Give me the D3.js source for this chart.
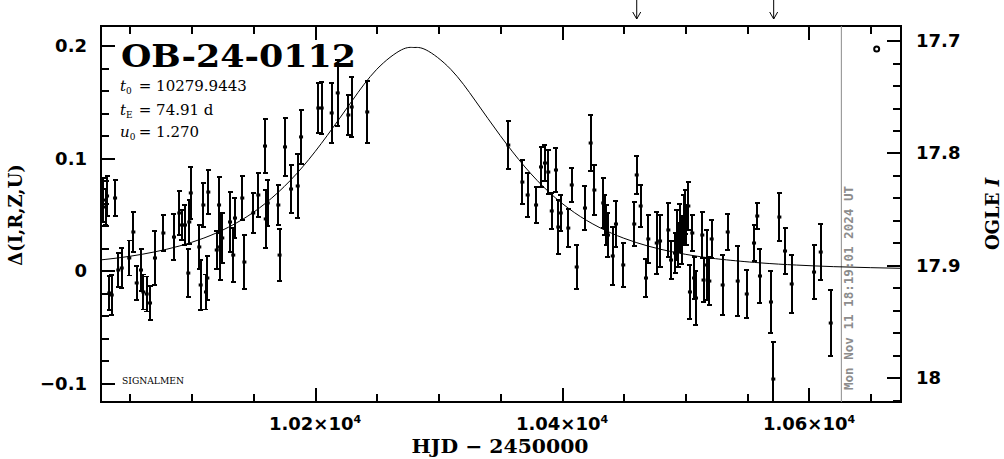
<!DOCTYPE html>
<html><head><meta charset="utf-8">
<script src="https://cdn.jsdelivr.net/npm/d3@7"></script>
<style>html,body{margin:0;padding:0;background:#fff;} svg{display:block} text{white-space:pre}</style>
</head><body>
<svg id="c" width="1004" height="459"></svg>
<script>
// ---- data ----
const hjd = [10028.7,10030.4,10031.6,10033.4,10035.4,10038.1,10040.7,10043.5,10049.6,10052.9,10055.6,10059.1,10061.0,10063.7,10066.4,10070.4,10077.2,10085.8,10090.1,10092.1,10094.7,10097.4,10098.2,10099.4,10106.3,10107.4,10109.6,10111.7,10112.8,10113.6,10120.4,10122.3,10123.1,10124.9,10131.2,10133.8,10135.2,10141.1,10142.8,10150.0,10154.1,10159.5,10160.1,10161.7,10170.3,10171.3,10175.7,10180.6,10186.0,10188.7,10202.7,10205.4,10213.5,10218.4,10227.0,10229.7,10242.3,
10356.5,10367.9,10372.2,10379.0,10383.0,10386.2,10388.9,10391.7,10395.1,10397.0,10399.0,10405.1,10407.9,10411.9,10418.6,10423.2,10426.2,10433.4,10434.8,10436.0,10437.2,10441.1,10443.7,10449.6,10458.5,10460.5,10463.7,10468.0,10469.9,10476.7,10479.4,10486.1,10488.3,10491.5,10493.1,10494.3,10495.5,10496.9,10498.4,10499.6,10500.8,10502.3,10503.6,10505.5,10506.9,10508.5,10513.6,10514.6,10517.2,10519.3,10521.2,10530.1,10534.2,10542.3,10549.6,10555.5,10558.1,10560.3,10569.2,10571.1,10576.0,10580.6,10586.0,10604.1,10609.5,10617.6];
const delta = [0.0629,0.0567,0.0665,-0.0197,-0.0215,0.0647,0.0007,0.0025,0.0114,0.0345,-0.0108,0.0007,-0.0188,-0.0206,-0.0286,0.0114,0.0336,0.0300,0.0514,0.0407,0.0407,-0.0020,0.0434,0.0692,0.0212,-0.0126,0.0585,-0.0188,-0.0064,0.0700,0.0185,0.0585,0.0212,0.0292,0.0434,0.0140,0.0469,0.0647,0.0078,0.0514,0.0674,0.1109,0.0461,0.0603,0.0585,0.0140,0.1101,0.0727,0.0754,0.1190,0.1447,0.1447,0.1403,0.1581,0.1385,0.1456,0.1412,
0.1118,0.0789,0.0674,0.0585,0.0923,0.0958,0.0878,0.0532,0.0896,0.0389,0.0514,0.0380,0.0763,0.0034,0.0558,0.1136,0.0718,0.0603,0.0496,0.0407,0.0318,0.0132,0.0416,0.0052,0.0416,0.0852,0.0576,-0.0064,0.0283,0.0247,0.0265,0.0363,0.0096,0.0158,0.0318,0.0229,0.0380,0.0274,0.0452,0.0523,0.0407,0.0576,-0.0188,0.0336,-0.0064,-0.0242,0.0318,-0.0082,0.0052,-0.0091,0.0283,-0.0126,0.0345,-0.0091,-0.0206,0.0247,0.0487,-0.0046,-0.0277,-0.0962,0.0478,0.0176,-0.0117,-0.0011,0.0167,-0.0464];
const errs = [0.0196,0.016,0.0178,0.0151,0.0178,0.016,0.0151,0.0178,0.0156,0.0178,0.0151,0.0187,0.0156,0.0156,0.0151,0.024,0.016,0.0204,0.0196,0.0133,0.0178,0.0213,0.0196,0.0231,0.0196,0.0222,0.0196,0.0156,0.0196,0.0196,0.0169,0.0249,0.0293,0.0222,0.0267,0.024,0.0178,0.0196,0.024,0.0178,0.0196,0.024,0.0258,0.0204,0.0178,0.0231,0.0258,0.0213,0.0284,0.024,0.0222,0.0231,0.0267,0.0293,0.0178,0.0267,0.0276,
0.0213,0.0196,0.0196,0.016,0.0178,0.016,0.0196,0.016,0.0196,0.024,0.016,0.0169,0.0151,0.0196,0.0196,0.0249,0.0222,0.0222,0.0178,0.0178,0.0196,0.0258,0.0204,0.0196,0.0196,0.0169,0.0187,0.0169,0.0213,0.0276,0.0231,0.024,0.0169,0.0178,0.0222,0.0196,0.0213,0.0213,0.0222,0.0196,0.0178,0.0213,0.024,0.016,0.0187,0.024,0.0204,0.0196,0.0311,0.0213,0.0169,0.0267,0.016,0.0311,0.0213,0.016,0.0116,0.024,0.0276,0.0329,0.0213,0.0204,0.0258,0.024,0.0249,0.0293];
// model curve
const modelT = [10010,10030,10050,10070,10090,10110,10130,10150,10170,10190,10210,10230,10250,10270,10280,10290,10310,10330,10350,10370,10390,10410,10430,10450,10470,10490,10510,10530,10560,10590,10620,10650,10680];
const modelD = [0.0080,0.0101,0.0129,0.0168,0.0220,0.0291,0.0388,0.0519,0.0696,0.0924,0.1204,0.1511,0.1791,0.1964,0.1985,0.1963,0.1790,0.1509,0.1202,0.0923,0.0694,0.0518,0.0387,0.0290,0.0219,0.0167,0.0129,0.0101,0.0071,0.0051,0.0037,0.0028,0.0021];
const xTickValues = [10200, 10400, 10600];
const xTickMantissa = ["1.02", "1.04", "1.06"];
const xMinorStep = 50;
const leftTickValues = [-0.1, 0, 0.1, 0.2];
const leftTickLabels = ["\u22120.1", "0", "0.1", "0.2"];
const rightTickValues = [17.7, 17.8, 17.9, 18.0];
const rightTickLabels = ["17.7", "17.8", "17.9", "18"];
const arrowTimes = [10460.5, 10571.4];
const nowLineT = 10626.2;
const symbolT = 10654.8, symbolD = 0.1972;
const eventName = "OB-24-0112";
const params = [["t","0"," = 10279.9443"],["t","E"," = 74.91 d"],["u","0"," = 1.270"]];
const stamp = "Mon Nov 11 18:19:01 2024 UT";

// ---- layout ----
const X0 = 101, X1 = 901, Y0 = 26, Y1 = 402;
const svg = d3.select("#c");
const x = d3.scaleLinear().domain([10026.7, 10674.5]).range([X0, X1]);
const y = d3.scaleLinear().domain([-0.1166, 0.2176]).range([Y1, Y0]);
const yR = d3.scaleLinear().domain([18.0216, 17.687]).range([Y1, Y0]);

svg.append("defs").append("clipPath").attr("id","clip")
  .append("rect").attr("x",X0).attr("y",Y0).attr("width",X1-X0).attr("height",Y1-Y0);

const sansB = "'DejaVu Sans', sans-serif";
const serif = "'DejaVu Serif', serif";

const xMinor = d3.range(10050, 10675, xMinorStep).filter(v => !xTickValues.includes(v));
const lMinor = d3.range(-5, 11).map(i => +(i*0.02).toFixed(2)).filter(v => !leftTickValues.some(t=>Math.abs(t-v)<1e-6));
const rMinor = d3.range(0, 17).map(i => +(17.7 + i*0.02).toFixed(2)).filter(v => !rightTickValues.some(t=>Math.abs(t-v)<1e-6));

function axisG(axis, tx, ty) {
  const g = svg.append("g").attr("transform", `translate(${tx},${ty})`).call(axis);
  g.select(".domain").remove();
  g.selectAll("text").remove();
  g.selectAll("line").attr("stroke","#000").attr("stroke-width",2).attr("shape-rendering","crispEdges");
  return g;
}
axisG(d3.axisBottom(x).tickValues(xTickValues).tickSize(-14).tickFormat(""), 0, Y1);
axisG(d3.axisBottom(x).tickValues(xMinor).tickSize(-8).tickFormat(""), 0, Y1);
axisG(d3.axisTop(x).tickValues(xTickValues).tickSize(-14).tickFormat(""), 0, Y0);
axisG(d3.axisTop(x).tickValues(xMinor).tickSize(-8).tickFormat(""), 0, Y0);
axisG(d3.axisLeft(y).tickValues(leftTickValues).tickSize(-14).tickFormat(""), X0, 0);
axisG(d3.axisLeft(y).tickValues(lMinor).tickSize(-8).tickFormat(""), X0, 0);
axisG(d3.axisRight(yR).tickValues(rightTickValues).tickSize(-14).tickFormat(""), X1, 0);
axisG(d3.axisRight(yR).tickValues(rMinor).tickSize(-8).tickFormat(""), X1, 0);

svg.append("rect").attr("x",X0).attr("y",Y0).attr("width",X1-X0).attr("height",Y1-Y0)
  .attr("fill","none").attr("stroke","#000").attr("stroke-width",2).attr("shape-rendering","crispEdges");

xTickValues.forEach((v,i) => {
  const t = svg.append("text").attr("x", x(v)).attr("y", 430).attr("text-anchor","middle")
    .attr("font-family", sansB).attr("font-weight","bold").attr("font-size",18);
  t.append("tspan").text(xTickMantissa[i] + "\u00d710");
  t.append("tspan").attr("font-size",11).attr("dy",-7).text("4");
});
leftTickValues.forEach((v,i) => {
  svg.append("text").attr("x", 87).attr("y", y(v) + 6.5).attr("text-anchor","end")
    .attr("font-family", sansB).attr("font-weight","bold").attr("font-size",18).text(leftTickLabels[i]);
});
rightTickValues.forEach((v,i) => {
  svg.append("text").attr("x", 916).attr("y", yR(v) + 6.5).attr("text-anchor","start")
    .attr("font-family", sansB).attr("font-weight","bold").attr("font-size",18).text(rightTickLabels[i]);
});

svg.append("text").attr("x", 500).attr("y", 453).attr("text-anchor","middle")
  .attr("font-family", serif).attr("font-weight","bold").attr("font-size",19)
  .attr("textLength",177).attr("lengthAdjust","spacingAndGlyphs").text("HJD \u2212 2450000");
svg.append("text").attr("transform","translate(22,215) rotate(-90)").attr("text-anchor","middle")
  .attr("font-family", serif).attr("font-weight","bold").attr("font-size",18).text("\u0394(I,R,Z,U)");
const og = svg.append("text").attr("transform","translate(999,214) rotate(-90)").attr("text-anchor","middle")
  .attr("font-family", serif).attr("font-weight","bold").attr("font-size",18);
og.append("tspan").text("OGLE ");
og.append("tspan").attr("font-style","italic").text("I");

svg.append("line").attr("x1", x(nowLineT)).attr("x2", x(nowLineT)).attr("y1", Y0).attr("y2", Y1)
  .attr("stroke","#8c8c8c").attr("stroke-width",1);
svg.append("text").attr("transform",`translate(${x(nowLineT)+12},390) rotate(-90)`)
  .attr("font-family","'DejaVu Sans Mono', monospace").attr("font-weight","bold").attr("font-size",12.5)
  .attr("fill","#8c8c8c").attr("textLength",204).attr("lengthAdjust","spacingAndGlyphs").text(stamp);

arrowTimes.forEach(t => {
  const ax = x(t);
  svg.append("path").attr("d", `M${ax},0 L${ax},19 M${ax-4},12 L${ax},19 L${ax+4},12`)
    .attr("fill","none").attr("stroke","#000").attr("stroke-width",1);
});

svg.append("circle").attr("cx", x(symbolT)).attr("cy", y(symbolD)).attr("r",2.5)
  .attr("fill","none").attr("stroke","#000").attr("stroke-width",2);

svg.append("text").attr("x",121).attr("y",66.5).attr("font-family",serif).attr("font-weight","bold")
  .attr("font-size",32).attr("textLength",235).attr("lengthAdjust","spacingAndGlyphs").text(eventName);
const pY = [91, 114.5, 137];
params.forEach((p,i) => {
  const t = svg.append("text").attr("y", pY[i]).attr("font-family",serif).attr("font-size",15);
  t.append("tspan").attr("x",120).attr("font-style","italic").text(p[0]);
  t.append("tspan").attr("font-size",9).attr("dy",3).text(p[1]);
  t.append("tspan").attr("x",134).attr("dy",-3).text(p[2]);
});
svg.append("text").attr("x",122).attr("y",384).attr("font-family",serif).attr("font-size",9.5)
  .attr("textLength",62).attr("lengthAdjust","spacingAndGlyphs").text("SIGNALMEN");

const pts = hjd.map((t,i) => ({t, d: delta[i], e: errs[i]}));
const gd = svg.append("g").attr("clip-path","url(#clip)");
gd.selectAll("line.eb").data(pts).join("line").attr("class","eb")
  .attr("x1", p => x(p.t)).attr("x2", p => x(p.t))
  .attr("y1", p => y(p.d + p.e)).attr("y2", p => y(p.d - p.e))
  .attr("stroke","#000").attr("stroke-width",2).attr("shape-rendering","crispEdges");
gd.selectAll("path.cap").data(pts).join("path").attr("class","cap")
  .attr("d", p => `M${x(p.t)-2.5},${y(p.d+p.e)} H${x(p.t)+2.5} M${x(p.t)-2.5},${y(p.d-p.e)} H${x(p.t)+2.5}`)
  .attr("stroke","#000").attr("stroke-width",1.5).attr("shape-rendering","crispEdges");
gd.selectAll("rect.pt").data(pts).join("rect").attr("class","pt")
  .attr("x", p => x(p.t)-2).attr("y", p => y(p.d)-1.5).attr("width",4).attr("height",3).attr("fill","#000");

const line = d3.line().x((t,i) => x(t)).y((t,i) => y(modelD[i])).curve(d3.curveNatural);
gd.append("path").attr("d", line(modelT)).attr("fill","none").attr("stroke","#000").attr("stroke-width",1);
</script>
</body></html>
